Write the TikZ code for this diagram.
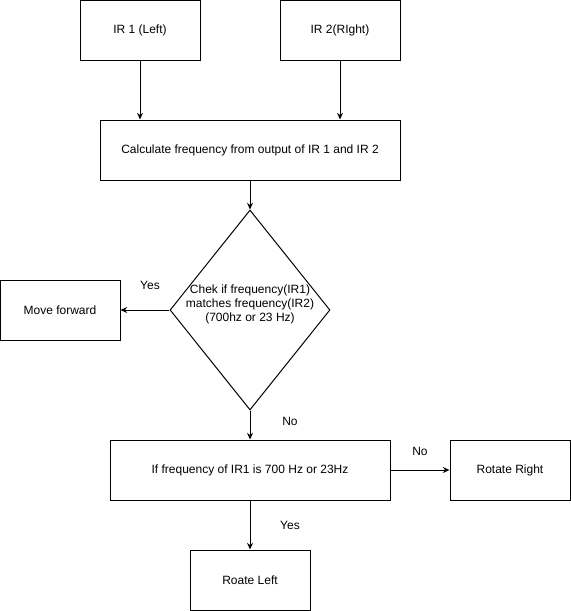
\documentclass[tikz,border=0pt]{standalone}
\usepackage{fontspec}
\setmainfont{Liberation Sans}
\usetikzlibrary{arrows.meta,positioning,shapes.geometric}

\begin{document}
\begin{tikzpicture}[x=0.75pt, y=-0.75pt, line width=0.75pt,
    every node/.style={font=\fontsize{9}{10.5}\selectfont},
    stepbox/.style={draw, minimum width=90pt, minimum height=45pt, inner sep=0},
    arr/.style={-{Stealth[length=5pt, width=4.5pt]}}]
  \useasboundingbox (0,0) rectangle (571,611);
  \node[stepbox] (ir1) at (140,30) {IR 1 (Left)};
  \node[stepbox] (ir2) at (340,30) {IR 2(RIght)};
  \node[stepbox, minimum width=225pt] (calc) at (250,150) {Calculate frequency from output of IR 1 and IR 2};
  \node[draw, diamond, minimum width=120pt, minimum height=150pt, inner sep=0] (check) at (250,310) {};
  \node[align=center, inner sep=0] (checktext) at (250,304) {Chek if frequency(IR1)\\matches frequency(IR2)\\(700hz or 23 Hz)};
  \node[stepbox] (fwd) at (60,310) {Move forward};
  \node[stepbox, minimum width=210pt] (ircheck) at (250,470) {If frequency of IR1 is 700 Hz or 23Hz};
  \node[stepbox] (rotright) at (510,470) {Rotate Right};
  \node[stepbox] (rotleft) at (250,580) {Roate Left};
  % branch labels
  \node (yesfwd) at (150,285) {Yes};
  \node (nocheck) at (290,421) {No};
  \node (noright) at (420,451) {No};
  \node (yesleft) at (290,525) {Yes};
  \draw[arr] (ir1.south) -- (ir1.south |- calc.north);
  \draw[arr] (ir2.south) -- (ir2.south |- calc.north);
  \draw[arr] (calc) -- (check);
  \draw[arr] (check) -- (fwd);
  \draw[arr] (check) -- (ircheck);
  \draw[arr] (ircheck) -- (rotright);
  \draw[arr] (ircheck) -- (rotleft);
\end{tikzpicture}
\end{document}
